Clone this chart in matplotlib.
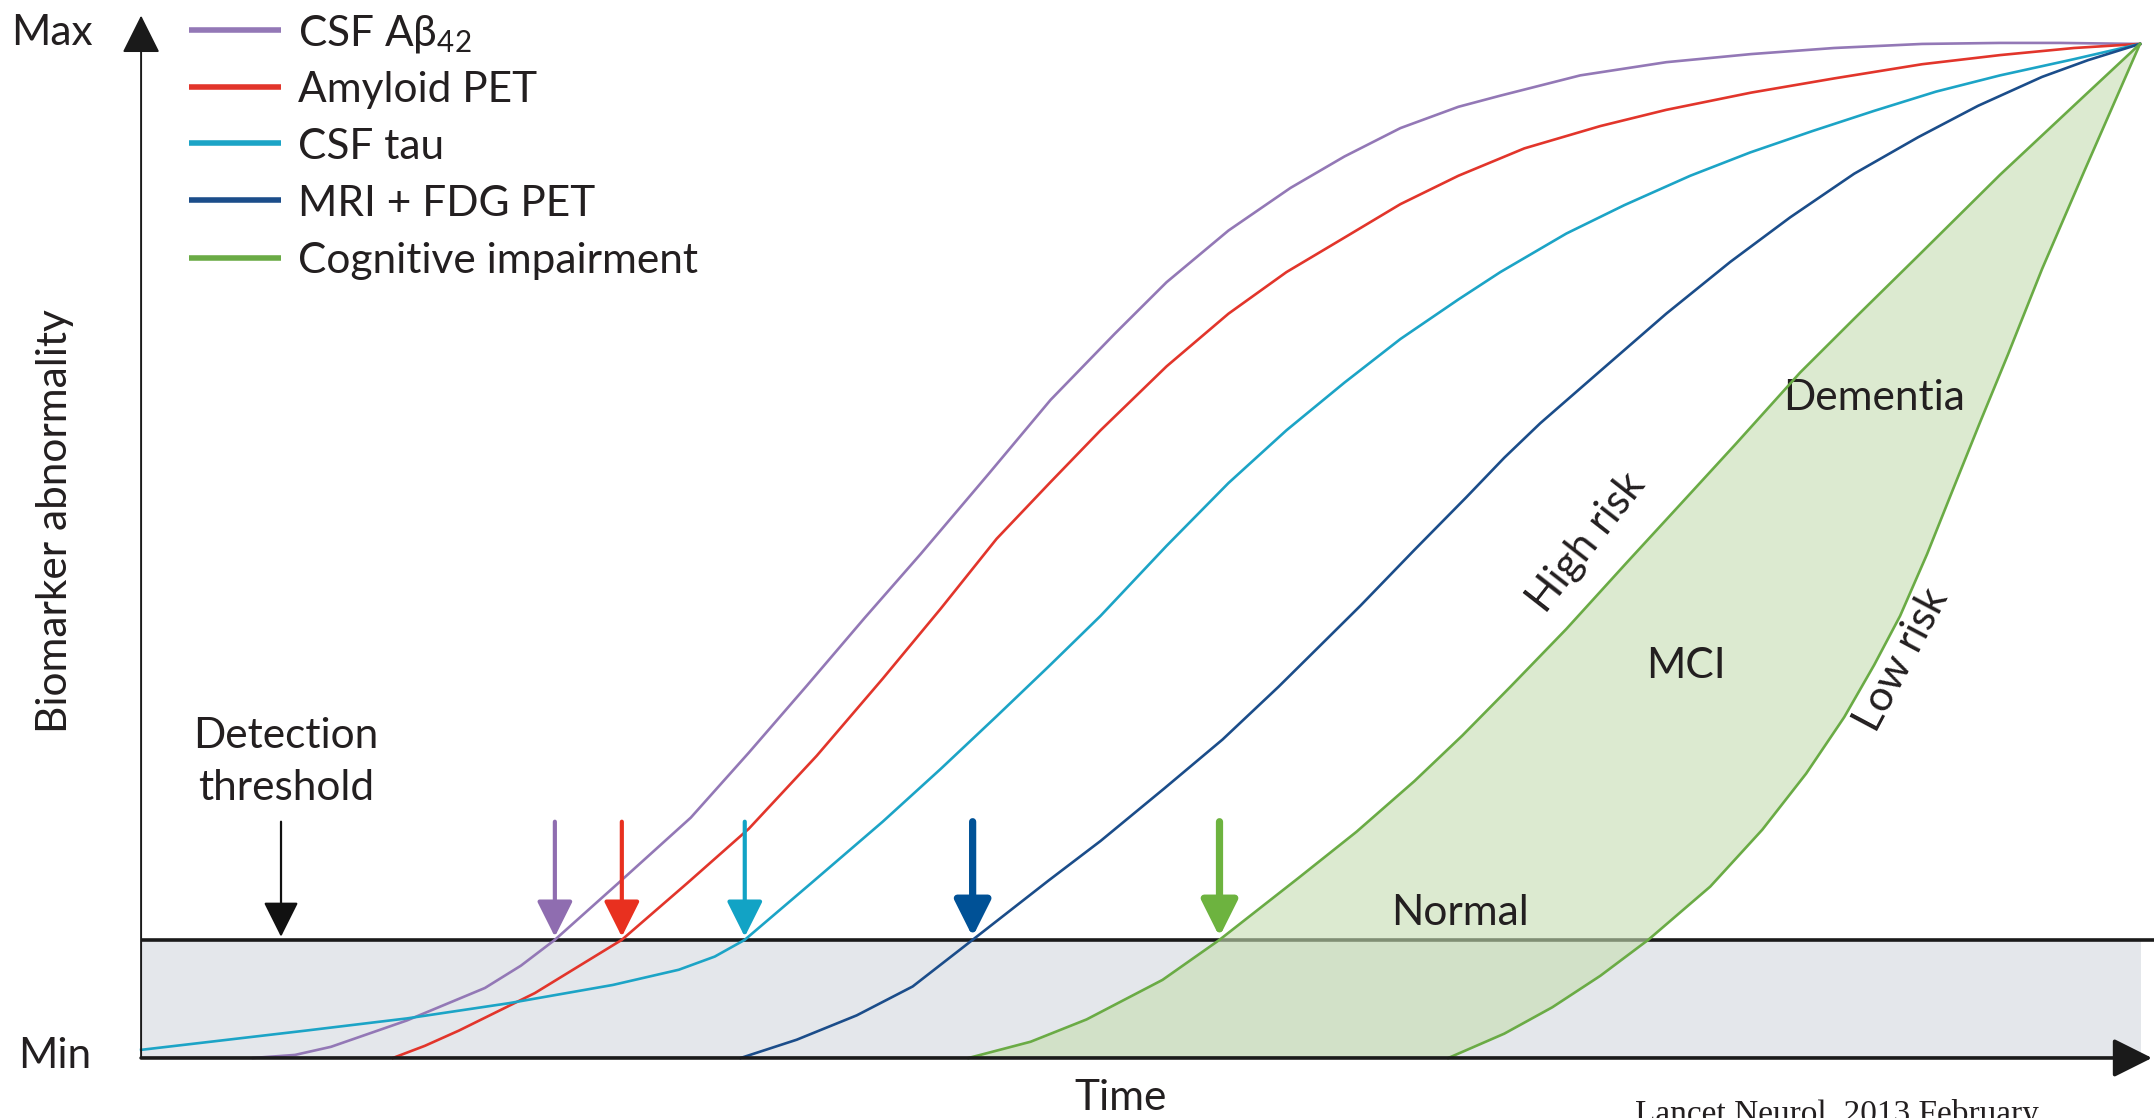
import matplotlib
matplotlib.use('Agg')
from matplotlib import pyplot as plt

plt.rcParams['font.family'] = ['Lato', 'DejaVu Sans']
plt.rcParams['mathtext.fontset'] = 'custom'
plt.rcParams['mathtext.rm'] = 'Lato'

# 坐标: 时间 0-100, 生物标志物异常 0(Min)-100(Max)
threshold = 11.65

labels = ['CSF A\u03b2$_{42}$', 'Amyloid PET', 'CSF tau', 'MRI + FDG PET', 'Cognitive impairment']
line_colors = ['#9378b6', '#e2352b', '#1ca4c6', '#1b4d8a', '#6aab45']
arrow_colors = ['#8f6db0', '#e8301f', '#12a3c5', '#005196', '#6db33f']

abeta_x = [5.6, 7.7, 9.5, 13.3, 17.2, 19.0, 20.7, 23.85, 27.5, 30.4, 33.3, 36.2, 39.0, 42.4, 45.5, 48.7,
           51.3, 54.4, 57.5, 60.2, 63.0, 65.9, 68.0, 72.0, 76.3, 80.55, 84.7, 89.1, 93.0, 96.0, 100]
abeta_y = [0, 0.3, 1.1, 3.7, 6.9, 9.1, 11.65, 17.2, 23.7, 30.1, 36.7, 43.4, 49.7, 57.6, 64.9, 71.4,
           76.5, 81.6, 85.8, 88.9, 91.7, 93.8, 94.9, 96.9, 98.2, 99.0, 99.6, 100.0, 100.1, 100.1, 100]

pet_x = [12.6, 14.2, 15.9, 19.7, 24.05, 27.3, 30.4, 33.8, 37.1, 40.0, 42.8, 45.5, 48.0, 51.3, 54.4, 57.3,
         60.2, 63.0, 65.9, 69.2, 73.0, 76.3, 80.55, 84.7, 89.1, 93.0, 96.7, 100]
pet_y = [0, 1.2, 2.7, 6.4, 11.65, 17.2, 22.6, 29.8, 37.4, 44.3, 51.2, 56.8, 61.9, 68.2, 73.4, 77.5,
         80.9, 84.2, 87.0, 89.7, 91.9, 93.5, 95.2, 96.6, 98.0, 98.9, 99.6, 100]

tau_x = [0, 8.25, 13.3, 18.4, 23.6, 26.9, 28.7, 30.2, 33.5, 37.1, 40.0, 42.8, 45.4, 48.0, 51.3, 54.4,
         57.3, 60.2, 63.0, 65.9, 68.0, 71.3, 74.2, 77.5, 80.5, 83.6, 86.7, 89.8, 93.0, 96.7, 100]
tau_y = [0.8, 2.7, 3.9, 5.4, 7.2, 8.7, 10.0, 11.65, 17.2, 23.3, 28.5, 33.7, 38.6, 43.6, 50.5, 56.7,
         61.9, 66.6, 70.9, 74.8, 77.5, 81.3, 84.1, 87.0, 89.3, 91.4, 93.4, 95.3, 96.9, 98.5, 100]

mri_x = [30.0, 32.8, 35.8, 38.6, 41.6, 45.4, 48.0, 51.2, 54.1, 56.9, 58.9, 61.0, 63.7, 66.3, 68.2, 70.0,
         73.0, 76.3, 79.5, 82.5, 85.7, 88.9, 91.9, 95.1, 97.4, 100]
mri_y = [0, 1.8, 4.2, 7.05, 11.65, 17.5, 21.4, 26.6, 31.4, 36.6, 40.5, 44.6, 50.1, 55.3, 59.2, 62.6,
         67.75, 73.4, 78.5, 82.9, 87.2, 90.8, 93.9, 96.75, 98.4, 100]

# 认知障碍: 高风险 / 低风险两条边界
high_x = [41.4, 44.5, 47.3, 51.1, 53.95, 57.9, 60.8, 63.7, 66.1, 68.5, 71.3, 74.3, 77.1, 79.8, 83.0,
          85.7, 88.9, 93.0, 97.2, 100]
high_y = [0, 1.6, 3.8, 7.7, 11.65, 17.75, 22.3, 27.3, 31.8, 36.6, 42.3, 48.8, 54.8, 60.6, 67.6,
          72.9, 79.1, 87.1, 94.85, 100]
low_x = [65.4, 68.2, 70.6, 73.0, 75.4, 78.5, 81.1, 83.3, 85.2, 86.7, 88.0, 89.35, 90.65, 92.0, 93.4,
         95.1, 97.2, 98.8, 100]
low_y = [0, 2.4, 5.0, 8.1, 11.65, 16.9, 22.5, 28.05, 33.6, 38.75, 43.6, 49.7, 56.1, 62.7, 69.4,
         77.8, 87.4, 94.6, 100]

curves = [(abeta_x, abeta_y), (pet_x, pet_y), (tau_x, tau_y), (mri_x, mri_y), (high_x, high_y)]

# 各标志物超过检测阈值的时间点
arrow_x = [20.7, 24.05, 30.2, 41.6, 53.95]
arrow_lw = [3.0, 3.0, 3.0, 5.2, 5.2]
detect_x = 7.0
arrow_top = 23.3

fig = plt.figure(figsize=(21.54, 11.18), dpi=100)
ax = fig.add_axes([0.0655, 0.0537, 0.928, 0.907])
ax.set_xlim(0, 100)
ax.set_ylim(0, 100)
ax.axis('off')

# 阈值以下的灰色区域
ax.fill_between([0, 100.7], 0, threshold, color='#e4e7eb', lw=0, zorder=1)
ax.plot([0, 100.7], [threshold, threshold], color='#1a1a1a', lw=2.6, zorder=2,
        solid_capstyle='butt', clip_on=False)

# 绿色 MCI 区域
ax.fill(high_x + low_x[::-1], high_y + low_y[::-1], color='#c6ddb1', alpha=0.6, lw=0, zorder=3)

for (cx, cy), c in zip(curves, line_colors):
    ax.plot(cx, cy, color=c, lw=1.9, zorder=4, clip_on=False, solid_joinstyle='round')
ax.plot(low_x, low_y, color=line_colors[4], lw=1.9, zorder=4, clip_on=False, solid_joinstyle='round')

# 坐标轴箭头
ax.annotate('', xy=(100.6, 0), xytext=(0, 0), annotation_clip=False, zorder=6,
            arrowprops=dict(arrowstyle='-|>,head_length=1.2,head_width=0.6', mutation_scale=20,
                            lw=2.6, color='#1a1a1a', shrinkA=0, shrinkB=0))
ax.annotate('', xy=(0, 102.8), xytext=(0, 0), annotation_clip=False, zorder=6,
            arrowprops=dict(arrowstyle='-|>,head_length=1.2,head_width=0.6', mutation_scale=20,
                            lw=1.4, color='#1a1a1a', shrinkA=0, shrinkB=0))

# 阈值箭头
ax.annotate('', xy=(detect_x, threshold + 0.3), xytext=(detect_x, arrow_top), zorder=5,
            arrowprops=dict(arrowstyle='-|>,head_length=1.1,head_width=0.55', mutation_scale=20,
                            lw=1.6, color='#111111', shrinkA=0, shrinkB=0))
for xa, c, w in zip(arrow_x, arrow_colors, arrow_lw):
    ax.annotate('', xy=(xa, threshold + 0.3), xytext=(xa, arrow_top), zorder=5,
                arrowprops=dict(arrowstyle='-|>,head_length=1.1,head_width=0.55', mutation_scale=20,
                                lw=w, color=c, shrinkA=0, shrinkB=0))

# 图例
fs = 30.5
leg_y = [101.4, 95.8, 90.2, 84.6, 78.9]
for yl, lab, c in zip(leg_y, labels, line_colors):
    ax.plot([2.4, 7.0], [yl, yl], color=c, lw=4, solid_capstyle='butt', clip_on=False)
    ax.text(7.85, yl, lab, fontsize=fs, va='center_baseline', ha='left', color='#231f20')

txt = dict(fontsize=fs, color='#231f20')
ax.text(-2.4, 101.4, 'Max', ha='right', va='center_baseline', **txt)
ax.text(-2.5, 0.5, 'Min', ha='right', va='center_baseline', **txt)
ax.text(-4.3, 52.9, 'Biomarker abnormality', rotation=90, ha='center', va='center', **txt)
ax.text(49.0, -3.9, 'Time', ha='center', va='center', **txt)
ax.text(7.25, 29.2, 'Detection\nthreshold', ha='center', va='center', linespacing=1.45, **txt)
ax.text(66.0, 14.3, 'Normal', ha='center', va='center', **txt)
ax.text(77.3, 38.7, 'MCI', ha='center', va='center', **txt)
ax.text(86.7, 65.1, 'Dementia', ha='center', va='center', **txt)
ax.text(72.3, 50.8, 'High risk', rotation=52, ha='center', va='center', rotation_mode='anchor', **txt)
ax.text(88.1, 39.3, 'Low risk', rotation=62, ha='center', va='center', rotation_mode='anchor', **txt)

fig.text(0.759, 0.017, 'Lancet Neurol. 2013 February', family='Liberation Serif',
         fontsize=24, ha='left', va='top', color='#231f20')

fig.savefig('out.png', dpi=100)
